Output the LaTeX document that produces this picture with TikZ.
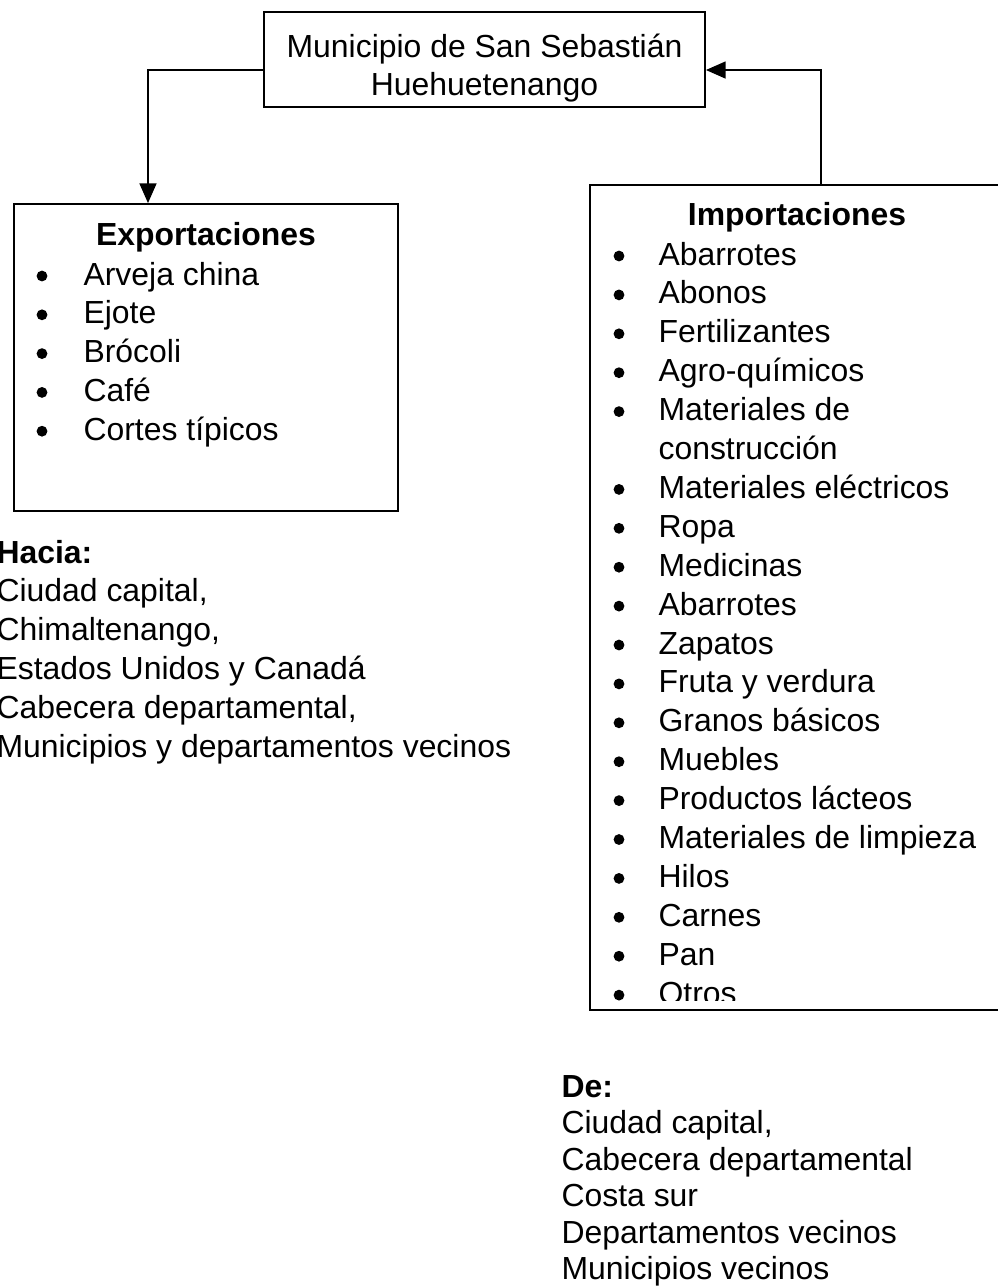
\documentclass[tikz,border=0pt]{standalone}
\usepackage{fontspec}
\setmainfont{Liberation Sans}
\usetikzlibrary{positioning,arrows.meta,calc}
\newcommand{\ListFont}{\fontsize{11.35}{13.8}\selectfont}
\newcommand{\LineStep}{38.8}

\begin{document}
\begin{tikzpicture}[
	% Define styles and settings
	x=0.0125cm, y=-0.0125cm,
	font=\ListFont,
	box/.style={rectangle, draw, line width=0.6pt, inner sep=0pt},
	boxtext/.style={anchor=base, inner sep=0pt},
	item/.style={anchor=base west, inner sep=0pt},
	dot/.style={circle, fill, inner sep=0pt, minimum size=0.135cm},
	head/.style={anchor=base, inner sep=0pt, font=\ListFont\bfseries},
	headwest/.style={anchor=base west, inner sep=0pt, font=\ListFont\bfseries},
	arrow/.style={-{Triangle[length=7pt, width=6pt]}, line width=0.6pt}
	]
	\useasboundingbox (0,0) rectangle (998,1287);

	% boxes
	\draw (484.5,59.5) node[box, minimum width=5.5125cm, minimum height=1.1875cm] (Municipio) {};
	\draw (484.5,57) node[boxtext] (Municipio_1) {Municipio de San Sebastián};
	\draw (484.5,95) node[boxtext] (Municipio_2) {Huehuetenango};

	\draw (206,357.5) node[box, minimum width=4.8cm, minimum height=3.8375cm] (Exportaciones) {};
	\draw (797,597.5) node[box, minimum width=5.175cm, minimum height=10.3125cm] (Importaciones) {};

	% connectors
	\draw[arrow] ($(Municipio.west)+(0,10.5)$) -| ($(Exportaciones.north)+(-58,0)$);
	\draw[arrow] ($(Importaciones.north)+(24,0)$) |- ($(Municipio.east)+(0,10.5)$);

	% exportaciones
	\draw (206,245) node[head] (Exp_head) {Exportaciones};
	\foreach \txt [count=\i] in {Arveja china, Ejote, Brócoli, Café, Cortes típicos}{
		\draw (42,276+\LineStep*\i-\LineStep) node[dot] (Exp_dot_\i) {};
		\draw (83,285+\LineStep*\i-\LineStep) node[item] (Exp_\i) {\txt};
	}

	% importaciones, clipped at the bottom of the box
	\draw (797,225) node[head] (Imp_head) {Importaciones};
	\begin{scope}
		\clip (590,185) rectangle (1004,1000);
		\foreach \txt [count=\i] in {Abarrotes, Abonos, Fertilizantes, Agro-químicos,
			Materiales de, construcción, Materiales eléctricos, Ropa, Medicinas,
			Abarrotes, Zapatos, Fruta y verdura, Granos básicos, Muebles,
			Productos lácteos, Materiales de limpieza, Hilos, Carnes, Pan, Otros}{
			\ifnum\i=6 \else
				\draw (619,256+38.9*\i-38.9) node[dot] (Imp_dot_\i) {};
			\fi
			\draw (658,265+38.9*\i-38.9) node[item] (Imp_\i) {\txt};
		}
	\end{scope}

	% destinos
	\draw (-4,563) node[headwest] (Hacia) {Hacia:};
	\foreach \txt [count=\i] in {{Ciudad capital,}, {Chimaltenango,}, Estados Unidos y Canadá,
		{Cabecera departamental,}, Municipios y departamentos vecinos}{
		\draw (-4,563+\LineStep*\i) node[item] (Hacia_\i) {\txt};
	}

	% origenes
	\draw (561,1097) node[headwest] (De) {De:};
	\foreach \txt [count=\i] in {{Ciudad capital,}, Cabecera departamental, Costa sur,
		Departamentos vecinos, Municipios vecinos}{
		\draw (561,1097+36.5*\i) node[item] (De_\i) {\txt};
	}

\end{tikzpicture}
\end{document}
